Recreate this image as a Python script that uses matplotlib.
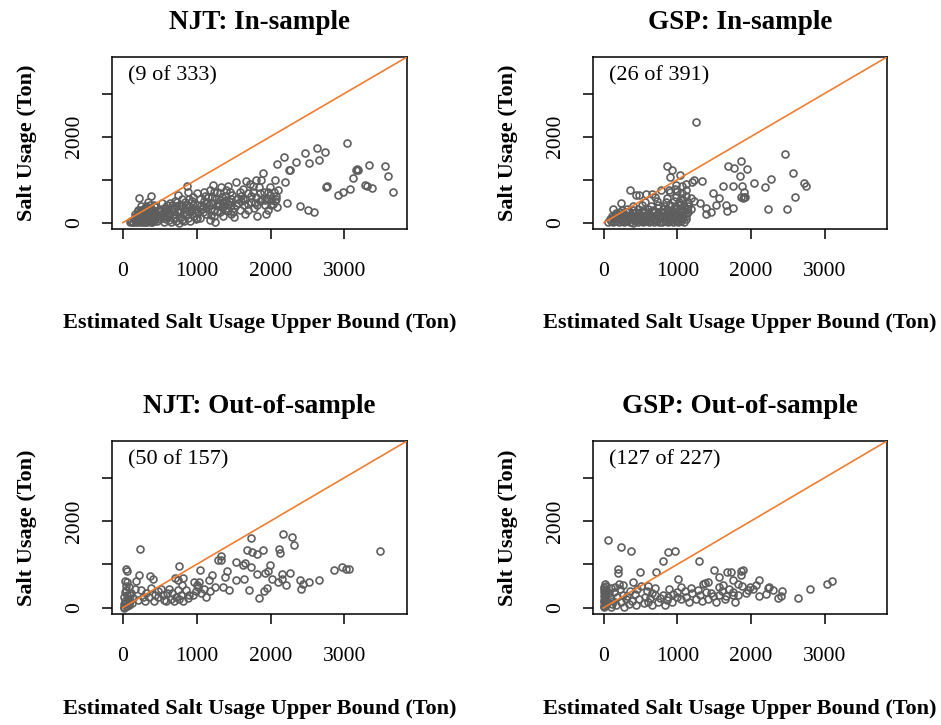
import matplotlib
matplotlib.use('Agg')
import matplotlib.pyplot as plt
import numpy as np

plt.rcParams['font.family'] = ['Liberation Serif', 'DejaVu Serif']

# colours and sizes
POINT_COLOR = '#5e5e5e'
LINE_COLOR = '#ee7d31'
MARKER_SIZE = 5.0
LINE_WIDTH = 1.2

TITLES = ['NJT: In-sample', 'GSP: In-sample', 'NJT: Out-of-sample', 'GSP: Out-of-sample']
NOTES = ['(9 of 333)', '(26 of 391)', '(50 of 157)', '(127 of 227)']
X_LABEL = 'Estimated Salt Usage Upper Bound (Ton)'
Y_LABEL = 'Salt Usage (Ton)'
X_TICKS = [0, 1000, 2000, 3000]
X_TICK_LABELS = ['0', '1000', '2000', '3000']
Y_TICKS = [0, 1000, 2000, 3000]
Y_TICK_LABELS = ['0', '', '2000', '']
AX_MIN, AX_MAX = 0, 3700

NJT_IN = [
    (130, 20), (160, 60), (180, 10), (200, 120), (210, 40), (220, 200), (230, 90), (240, 150),
    (250, 30), (260, 260), (270, 180), (280, 70), (290, 310), (300, 130), (310, 220), (320, 50),
    (330, 280), (340, 160), (350, 100), (360, 340), (370, 210), (380, 40), (390, 250), (400, 140),
    (410, 300), (420, 80), (430, 190), (440, 360), (260, 100), (300, 20), (330, 120), (350, 240),
    (280, 150), (240, 60), (370, 130), (320, 330), (390, 70), (410, 200), (300, 200), (270, 300),
    (360, 400), (221, 566), (378, 628), (342, 473), (250, 380), (420, 420), (200, 300), (440, 250),
    (310, 390), (180, 150), (230, 240), (290, 60), (350, 30), (400, 20), (190, 70), (270, 10),
    (330, 200), (360, 280), (250, 170), (300, 350), (531, 457),
    (90, 10), (110, 40), (140, 5), (150, 90), (170, 50), (190, 160), (200, 20), (215, 110),
    (225, 60), (235, 180), (245, 10), (255, 130), (265, 70), (275, 220), (285, 30), (295, 170),
    (305, 90), (315, 260), (325, 15), (335, 140), (345, 60), (355, 200), (365, 100), (375, 250),
    (385, 20), (395, 170), (405, 110), (415, 240), (425, 40), (435, 150), (160, 200), (280, 110),
    (320, 190), (360, 60), (400, 280), (240, 290), (180, 100), (210, 260), (340, 230), (300, 80),
    (460, 30), (480, 180), (500, 80), (520, 260), (540, 120), (560, 20), (580, 300), (600, 150),
    (620, 50), (640, 230), (660, 350), (680, 100), (700, 200), (720, 30), (740, 280), (760, 420),
    (780, 140), (800, 60), (820, 330), (840, 480), (860, 200), (880, 100), (900, 380), (920, 260),
    (940, 500), (960, 150), (980, 320), (1000, 420), (870, 845), (750, 650), (600, 400), (700, 500),
    (800, 550), (880, 700), (950, 600), (1010, 690), (650, 10), (720, 380), (830, 30), (910, 40),
    (990, 80), (570, 230), (690, 310), (770, 240), (850, 400), (930, 320), (800, 420), (760, 0),
    (640, 450), (470, 120), (490, 300), (510, 200), (550, 350), (590, 90), (610, 270), (630, 170),
    (670, 400), (710, 110), (730, 470), (790, 380), (810, 200), (870, 300), (890, 550), (950, 420),
    (970, 220),
    (1020, 250), (1050, 100), (1080, 380), (1100, 500), (1120, 200), (1150, 600), (1176, 767),
    (1190, 320), (1210, 450), (1221, 876), (1240, 150), (1260, 550), (1280, 700), (1300, 380),
    (1320, 250), (1340, 600), (1360, 480), (1380, 300), (1400, 750), (1423, 860), (1440, 500),
    (1460, 200), (1480, 650), (1500, 350), (1536, 938), (1540, 550), (1060, 420), (1130, 340),
    (1180, 60), (1230, 280), (1270, 420), (1310, 680), (1350, 150), (1390, 520), (1430, 260),
    (1470, 400), (1510, 120), (1250, 20), (1330, 820), (1200, 600), (1100, 700), (1040, 560),
    (1290, 460), (1370, 380), (1450, 700), (1160, 400), (1090, 250), (1410, 340), (1010, 100),
    (1070, 320), (1110, 620), (1140, 450), (1190, 170), (1230, 720), (1270, 280), (1310, 520),
    (1340, 360), (1380, 620), (1420, 430), (1460, 560), (1490, 250), (1530, 420),
    (1560, 460), (1580, 300), (1600, 620), (1620, 780), (1640, 400), (1660, 550), (1671, 961),
    (1700, 680), (1720, 900), (1740, 480), (1760, 720), (1780, 350), (1800, 600), (1820, 150),
    (1840, 820), (1860, 500), (1874, 1000), (1896, 1155), (1910, 700), (1930, 420), (1950, 580),
    (1970, 300), (1990, 650), (2010, 520), (2030, 440), (2054, 1000), (2070, 620), (2090, 360),
    (2100, 750), (2198, 938), (1700, 300), (1650, 200), (1760, 850), (1880, 550), (1990, 820),
    (2040, 700), (1600, 500), (1820, 420), (1940, 200), (2060, 500), (1806, 1000), (1590, 700),
    (1630, 560), (1690, 440), (1730, 620), (1790, 460), (1850, 680), (1920, 520), (1960, 720),
    (2000, 400), (2080, 560),
    (2180, 1527), (2090, 1357), (2248, 1233), (2260, 1220), (2347, 1419), (2468, 1620),
    (2527, 1388), (2626, 1729), (2662, 1450), (2743, 1636), (3032, 1853), (2225, 457), (2392, 380),
    (2505, 302), (2595, 240), (2752, 829), (2760, 840), (2910, 636), (2977, 713), (3081, 791),
    (3113, 1039), (3158, 1233), (3170, 1240), (3180, 1225), (3338, 1341), (3284, 876),
    (3374, 806), (3300, 850), (3550, 1310), (3586, 1093), (3662, 713),
]

GSP_IN = [
    (60, 15), (95, 40), (130, 5), (170, 30), (205, 20), (240, 45), (280, 10), (315, 35), (350, 25),
    (390, 0), (425, 40), (460, 15), (500, 30), (535, 5), (570, 45), (610, 20), (645, 35), (680, 10),
    (720, 40), (755, 20), (790, 5), (830, 35), (865, 25), (900, 45), (940, 10), (975, 30),
    (1010, 20), (1050, 40), (1085, 15),
    (80, 90), (120, 105), (160, 75), (195, 110), (230, 85), (270, 100), (305, 70), (345, 115),
    (380, 95), (415, 80), (455, 110), (490, 90), (530, 70), (565, 105), (600, 85), (640, 115),
    (675, 95), (715, 75), (750, 100), (785, 120), (825, 80), (860, 105), (895, 90), (935, 115),
    (970, 75), (1005, 100), (1045, 85), (1080, 110), (1120, 95),
    (110, 160), (150, 175), (190, 145), (225, 180), (265, 155), (300, 170), (340, 150), (375, 185),
    (410, 160), (450, 145), (485, 175), (525, 165), (560, 150), (595, 180), (635, 160), (670, 145),
    (710, 175), (745, 155), (780, 185), (820, 165), (855, 150), (890, 180), (930, 160), (965, 145),
    (1000, 175), (1040, 155), (1075, 185), (1110, 165),
    (170, 235), (215, 250), (255, 225), (300, 245), (345, 260), (390, 230), (430, 250), (475, 220),
    (520, 255), (560, 240), (605, 225), (650, 260), (690, 245), (735, 230), (780, 255), (820, 240),
    (865, 265), (905, 225), (950, 250), (990, 235), (1030, 260), (1070, 245), (1110, 230),
    (1150, 255),
    (250, 300), (320, 315), (390, 295), (460, 325), (530, 305), (600, 320), (670, 300), (740, 330),
    (800, 310), (860, 325), (920, 295), (980, 320), (1030, 335), (1080, 305), (1130, 325),
    (1190, 310),
    (400, 385), (520, 400), (640, 375), (730, 410), (820, 390), (900, 405), (970, 380), (1030, 415),
    (1090, 395), (1150, 385),
    (560, 480), (720, 500), (850, 470), (950, 505), (1020, 485), (1080, 515), (1140, 475),
    (1230, 495),
    (700, 590), (860, 570), (980, 600), (1050, 580), (1120, 610), (1180, 565),
    (900, 700), (1000, 740), (1060, 690), (1120, 760), (880, 750), (960, 780),
    (980, 880), (1060, 860), (1120, 900), (1200, 950), (1335, 977), (480, 640), (650, 660),
    (1254, 2349), (2458, 1589), (1863, 1442), (1682, 1326), (1764, 1264), (1940, 1256), (857, 1318),
    (929, 1225), (893, 1054), (1028, 1109), (2571, 1147), (2278, 1008), (2188, 837), (2034, 930),
    (1849, 1085), (1880, 840), (2720, 915), (2752, 853), (2598, 589), (2224, 318), (2494, 310),
    (1479, 682), (1615, 853), (1750, 853), (1570, 566), (1660, 411), (1750, 330), (1680, 280),
    (1520, 411), (1390, 330), (1390, 202), (1894, 566), (1910, 605), (1920, 590), (1870, 600),
    (1908, 721), (361, 760), (442, 643), (577, 659), (771, 760), (239, 450), (126, 310), (1220, 1000),
    (1300, 450), (1450, 250),
]

NJT_OUT = [
    (10, 20), (20, 80), (30, 150), (15, 250), (40, 40), (50, 300), (25, 350), (60, 120), (70, 200),
    (45, 400), (80, 60), (90, 280), (100, 160), (35, 500), (55, 580), (120, 100), (140, 220),
    (20, 0), (60, 30), (110, 330), (41, 899), (50, 837), (221, 744), (176, 605), (30, 610), (80, 480),
    (230, 1357), (1732, 1612), (2174, 1705), (2296, 1628), (2323, 1442), (2115, 1349), (2124, 1256),
    (1899, 1333), (1818, 1240), (1754, 1279), (1687, 1341), (1335, 1186), (1290, 1093), (1335, 1093),
    (1538, 1046), (1628, 992), (1660, 1030), (1741, 930), (1822, 783), (1921, 798), (1989, 992),
    (1968, 840), (2160, 783), (2259, 798), (2025, 667), (2150, 667), (2210, 527), (2100, 600),
    (2395, 643), (2521, 581), (2417, 434), (2440, 550), (2657, 636), (2860, 860), (2973, 938),
    (3018, 899), (3063, 899), (3487, 1302), (753, 953), (1042, 860), (1168, 643), (1416, 837),
    (1380, 705), (1538, 643), (1637, 667), (1349, 465), (1439, 395), (1709, 403), (1840, 233),
    (1912, 372), (1950, 450), (1132, 240), (1177, 388), (1019, 465), (996, 372), (365, 721),
    (410, 667), (703, 682), (748, 643), (816, 682), (960, 600), (1000, 520), (1030, 600), (860, 400),
    (900, 300), (720, 250), (780, 300), (690, 150), (650, 200), (590, 150), (600, 330), (520, 420),
    (470, 380), (430, 300), (380, 460), (310, 340), (270, 250), (240, 400), (200, 180), (160, 420),
    (300, 150), (350, 250), (420, 150), (480, 250), (540, 300), (560, 180), (620, 420), (670, 330),
    (760, 200), (820, 150), (880, 230), (950, 280), (1060, 330), (1100, 430), (1250, 480),
    (1200, 750), (800, 520), (740, 410),
]

GSP_OUT = [
    (5, 20), (10, 80), (0, 140), (15, 200), (5, 260), (20, 320), (10, 380), (0, 440), (25, 500),
    (8, 30), (18, 110), (3, 170), (12, 240), (28, 290), (6, 350), (22, 410), (2, 470), (14, 540),
    (30, 60), (35, 180), (40, 100),
    (59, 1558), (239, 1411), (365, 1302), (803, 1070), (870, 1287), (961, 1318), (1299, 1070),
    (1493, 860), (1570, 698), (1673, 822), (1728, 822), (1863, 837), (1894, 860), (1870, 760),
    (1750, 643), (1818, 543), (2111, 628), (2066, 527), (1960, 400), (1930, 330), (2030, 420),
    (2233, 450), (2240, 470), (1660, 279), (1786, 140), (2106, 271), (2418, 388), (2404, 279),
    (2372, 233), (2643, 233), (2801, 434), (3027, 550), (3103, 605), (1006, 667), (713, 814),
    (496, 822), (185, 899), (194, 798),
    (1186, 450), (1280, 410), (1350, 540), (1370, 560), (1410, 580), (1390, 370), (1450, 330),
    (1200, 330), (1100, 380), (1000, 360), (990, 240), (870, 240), (830, 60), (860, 180), (740, 140),
    (700, 280), (620, 220), (600, 140), (650, 60), (560, 250), (500, 500), (390, 600), (450, 420),
    (480, 200), (420, 320), (350, 380), (340, 90), (300, 210), (280, 20), (260, 300), (230, 130),
    (220, 430), (200, 550), (180, 250), (160, 60), (140, 350), (120, 160), (100, 450), (90, 20),
    (80, 250), (70, 330), (110, 80), (150, 470), (260, 520), (320, 260), (380, 150), (440, 50),
    (540, 100), (580, 380), (660, 340), (760, 220), (800, 300), (920, 120), (940, 320), (1050, 200),
    (1120, 250), (1160, 120), (1250, 200), (1300, 290), (1340, 150), (1420, 200), (1480, 260),
    (1520, 120), (1560, 300), (1600, 380), (1650, 200), (1700, 420), (1760, 350), (1820, 300),
    (1880, 500), (1990, 480), (2200, 320), (2300, 400), (600, 500), (700, 460), (880, 420),
    (1050, 480), (1560, 470), (1620, 520), (1760, 300),
]

# axes boxes in figure pixels: left, top, right, bottom
FIG_W, FIG_H = 941, 725
BOXES = [(112, 57, 407, 229), (593, 57, 887, 229), (112, 441, 407, 614), (593, 441, 887, 614)]


def plot_panel(fig, box, points, title, note):
    """Draws one scatter panel with the y = x reference line."""
    left, top, right, bottom = box
    ax = fig.add_axes([left / FIG_W, 1 - bottom / FIG_H,
                       (right - left) / FIG_W, (bottom - top) / FIG_H])
    pts = np.array(points, dtype=float)
    ax.plot(pts[:, 0], pts[:, 1], 'o', mfc='none', mec=POINT_COLOR,
            ms=MARKER_SIZE, mew=1.2, zorder=2)

    pad = 0.04 * (AX_MAX - AX_MIN)
    lo, hi = AX_MIN - pad, AX_MAX + pad
    ax.plot([0, hi], [0, hi], color=LINE_COLOR, lw=LINE_WIDTH, zorder=3)
    ax.set_xlim(lo, hi)
    ax.set_ylim(lo, hi)

    ax.set_xticks(X_TICKS)
    ax.set_xticklabels(X_TICK_LABELS)
    ax.set_yticks(Y_TICKS)
    ax.set_yticklabels(Y_TICK_LABELS, rotation=90, va='center')
    ax.tick_params(direction='out', length=7, width=1.1, labelsize=15.5)
    ax.tick_params(axis='x', pad=17)
    ax.tick_params(axis='y', pad=13)
    for spine in ax.spines.values():
        spine.set_linewidth(1.1)

    ax.set_title(title, fontsize=19.5, fontweight='bold', pad=20)
    ax.set_xlabel(X_LABEL, fontsize=16, fontweight='bold')
    ax.xaxis.set_label_coords(0.5, -0.49)
    ax.set_ylabel(Y_LABEL, fontsize=16, fontweight='bold')
    ax.yaxis.set_label_coords(-0.255, 0.5)
    ax.text(0.055, 0.89, note, transform=ax.transAxes, fontsize=16, va='center', ha='left')
    return ax


if __name__ == '__main__':
    fig = plt.figure(figsize=(FIG_W / 100, FIG_H / 100), dpi=100)
    for box, pts, title, note in zip(BOXES, [NJT_IN, GSP_IN, NJT_OUT, GSP_OUT], TITLES, NOTES):
        plot_panel(fig, box, pts, title, note)
    fig.savefig('out.png', dpi=100)
